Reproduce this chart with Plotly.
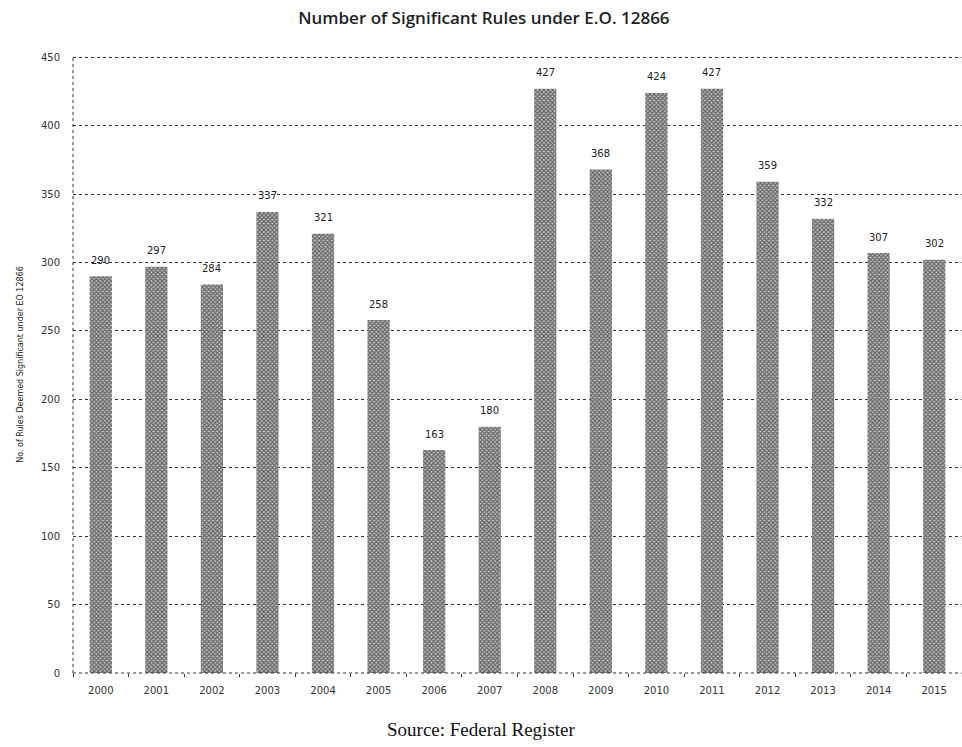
import plotly.graph_objects as go

years = [str(y) for y in range(2000, 2016)]
rules = [290, 297, 284, 337, 321, 258, 163, 180, 427, 368, 424, 427, 359, 332, 307, 302]
y_ticks = list(range(0, 451, 50))

fig = go.Figure()
fig.add_trace(go.Bar(
    x=years,
    y=rules,
    width=0.4,
    marker=dict(
        color="#555555",
        line=dict(width=0),
        pattern=dict(shape="x", size=3, solidity=0.6, fgcolor="#111111", bgcolor="#bbbbbb"),
    ),
))

# value labels sitting a little above each bar (category axis: position = index)
for idx, val in enumerate(rules):
    fig.add_annotation(
        x=idx, y=val, text=str(val), showarrow=False,
        xanchor="center", yanchor="middle", yshift=16,
        font=dict(family="DejaVu Sans", size=10, color="#222"),
    )

fig.update_layout(
    width=962,
    height=747,
    paper_bgcolor="white",
    plot_bgcolor="white",
    margin=dict(l=73, r=0, t=56, b=74),
    showlegend=False,
    bargap=0.6,
    title=dict(
        text="Number of Significant Rules under E.O. 12866",
        x=0.503, xanchor="center", y=0.976, yanchor="middle",
        font=dict(family="Open Sans", size=17, color="#222", weight=600),
    ),
    xaxis=dict(
        type="category",
        categoryorder="array", categoryarray=years,
        range=[-0.5, len(years) - 0.5],
        showline=False,
        ticks="outside", ticklen=3, tickcolor="#333",
        tickson="boundaries",
        ticklabelstandoff=10,
        tickangle=0,
        tickfont=dict(family="DejaVu Sans", size=10, color="#333"),
        showgrid=False,
    ),
    yaxis=dict(
        range=[0, 451],
        tickvals=y_ticks,
        showline=False,
        showgrid=True, gridcolor="#333", griddash="dot", gridwidth=1,
        tickfont=dict(family="DejaVu Sans", size=10, color="#333"),
        ticks="", ticklen=0,
        ticklabelstandoff=12,
        title=dict(
            text="No. of Rules Deemed Significant under EO 12866",
            font=dict(family="DejaVu Sans", size=8, color="#222"),
            standoff=16,
        ),
        zeroline=False,
    ),
)

# dotted axis lines along the left and bottom edges of the plot area
fig.add_shape(type="line", xref="paper", yref="paper", x0=0, x1=0, y0=0, y1=1,
              line=dict(color="#333", width=1, dash="dot"), layer="above")
fig.add_shape(type="line", xref="paper", yref="paper", x0=0, x1=1, y0=0, y1=0,
              line=dict(color="#333", width=1, dash="dot"), layer="above")

fig.add_annotation(
    text="Source: Federal Register",
    xref="paper", yref="paper", x=0.46, y=-0.092,
    xanchor="center", yanchor="middle", showarrow=False,
    font=dict(family="Liberation Serif", size=19, color="#111"),
)

fig.write_html("out.html")
